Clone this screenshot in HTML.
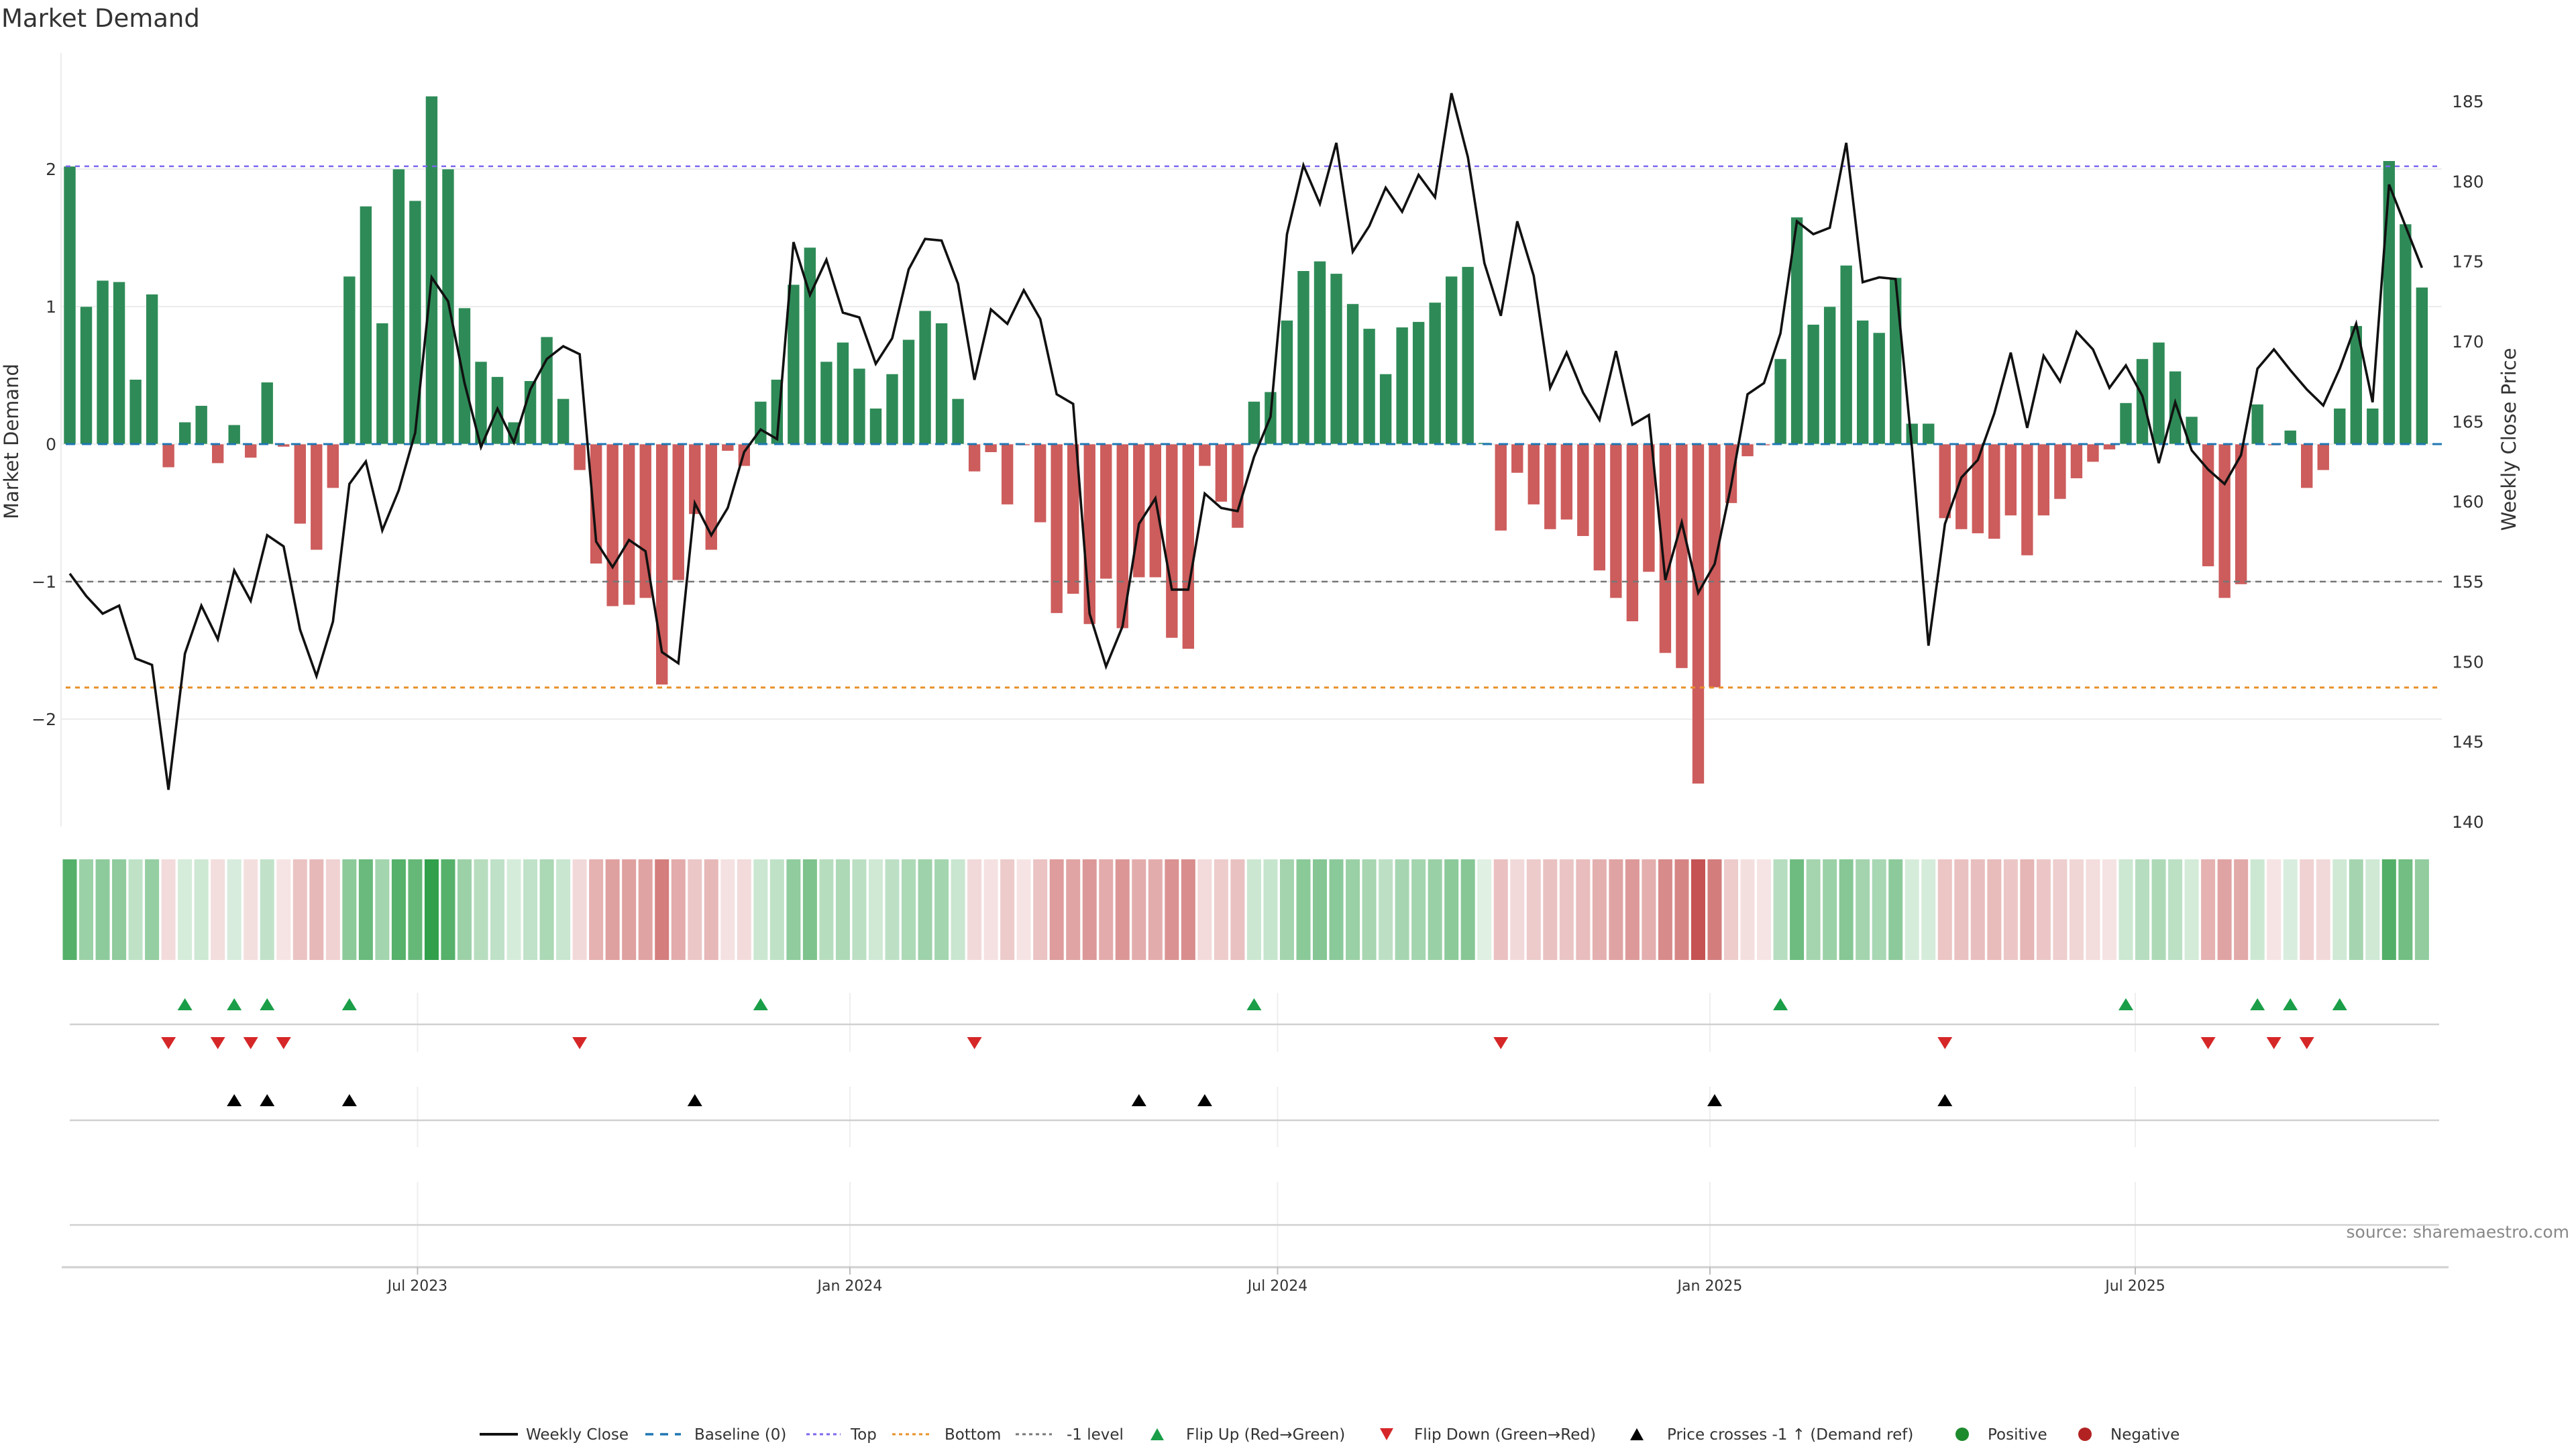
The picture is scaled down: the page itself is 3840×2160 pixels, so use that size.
<!DOCTYPE html>
<html><head><meta charset="utf-8"><style>
html,body{margin:0;padding:0;background:#fff;}
svg{display:block;font-family:"DejaVu Sans","Liberation Sans",sans-serif;}
</style></head><body>
<svg id="chart" width="3840" height="2160" viewBox="0 0 3840 2160" xmlns="http://www.w3.org/2000/svg">
<text x="2" y="40" font-size="37" fill="#333">Market Demand</text>
<text transform="translate(27,658) rotate(-90)" text-anchor="middle" font-size="29" fill="#333">Market Demand</text>
<text transform="translate(3750,655) rotate(-90)" text-anchor="middle" font-size="29" fill="#333">Weekly Close Price</text>
<text x="3830" y="1845" text-anchor="end" font-size="25" fill="#888">source: sharemaestro.com</text>
<g id="grid"></g><g id="bars"></g><g id="refs"></g><g id="line"></g><g id="heat"></g><g id="markers"></g><g id="xaxis"></g><g id="legend"></g>
</svg>
<script>
const demand = [2.02,1.0,1.19,1.18,0.47,1.09,-0.17,0.16,0.28,-0.14,0.14,-0.10,0.45,-0.02,-0.58,-0.77,-0.32,1.22,1.73,0.88,2.0,1.77,2.53,2.0,0.99,0.6,0.49,0.16,0.46,0.78,0.33,-0.19,-0.87,-1.18,-1.17,-1.12,-1.75,
-0.99,-0.51,-0.77,-0.05,-0.16,0.31,0.47,1.16,1.43,0.6,0.74,0.55,0.26,0.51,0.76,0.97,0.88,0.33,-0.2,-0.06,-0.44,-0.01,-0.57,-1.23,-1.09,-1.31,-0.98,-1.34,-0.97,-0.97,-1.41,-1.49,-0.16,-0.42,-0.61,0.31,0.38,0.9,1.26,
1.33,1.24,1.02,0.84,0.51,0.85,0.89,1.03,1.22,1.29,0.01,-0.63,-0.21,-0.44,-0.62,-0.55,-0.67,-0.92,-1.12,-1.29,-0.93,-1.52,-1.63,-2.47,-1.77,-0.43,-0.09,-0.01,0.62,1.65,0.87,1.0,1.3,0.9,0.81,1.21,0.15,0.15,
-0.54,-0.62,-0.65,-0.69,-0.52,-0.81,-0.52,-0.40,-0.25,-0.13,-0.04,0.3,0.62,0.74,0.53,0.2,-0.89,-1.12,-1.02,0.29,-0.01,0.1,-0.32,-0.19,0.26,0.86,0.26,2.06,1.6,1.14];
const price = [155.5,154.1,153.0,153.5,150.2,149.8,142.0,150.5,153.5,151.4,155.7,153.8,157.9,157.2,152.0,149.1,152.5,161.1,162.5,158.2,160.7,164.3,174.0,172.5,167.4,163.4,165.8,163.7,167.0,168.9,169.7,169.2,157.5,155.9,157.6,156.9,150.6,
149.9,159.9,157.9,159.6,163.1,164.5,163.9,176.2,172.9,175.1,171.8,171.5,168.6,170.2,174.5,176.4,176.3,173.6,167.6,172.0,171.1,173.2,171.4,166.7,166.1,153.0,149.7,152.2,158.6,160.2,154.5,154.5,160.5,159.6,159.4,162.8,165.3,176.7,181.0,
178.6,182.4,175.6,177.2,179.6,178.1,180.4,179.0,185.5,181.5,174.9,171.6,177.5,174.1,167.1,169.3,166.8,165.1,169.4,164.8,165.4,155.1,158.7,154.3,156.1,161.0,166.7,167.4,170.5,177.5,176.7,177.1,182.4,173.7,174.0,173.9,163.3,151.0,
158.6,161.5,162.6,165.5,169.3,164.6,169.1,167.5,170.6,169.5,167.1,168.5,166.6,162.4,166.2,163.2,162.0,161.1,162.9,168.3,169.5,168.2,167.0,166.0,168.3,171.1,166.2,179.8,177.2,174.6];
const startDate = "2023-02-03";
const leftTicks = [-2,-1,0,1,2];
const rightTicks = [140,145,150,155,160,165,170,175,180,185];
const dateTicks = ["2023-07-01","2024-01-01","2024-07-01","2025-01-01","2025-07-01"];
const dateTickLabels = ["Jul 2023","Jan 2024","Jul 2024","Jan 2025","Jul 2025"];
const topLevel = 2.02, bottomLevel = -1.77, minusLevel = -1, crossPrice = 155;

const NS="http://www.w3.org/2000/svg";
function mk(tag, parent, attrs){const e=document.createElementNS(NS,tag);for(const k in attrs)e.setAttribute(k,attrs[k]);parent.appendChild(e);return e;}
const X0=104, STEP=24.52;
const xAt = k => X0 + k*STEP;
const yL = v => 662 - v*205;
const yR = p => 867 - (p-155)*23.87;
const t0 = Date.parse(startDate);
const xDate = d => X0 + (Date.parse(d)-t0)/86400000/7*STEP;
const PL=91, PR=3650;

const grid=document.getElementById('grid');
leftTicks.forEach(v=>{
  const l=mk('line',grid,{x1:PL,x2:PR-10,y1:yL(v),y2:yL(v),stroke:'#ececec','stroke-width':2});
  
  
  const t=mk('text',grid,{x:84,y:yL(v)+9,'text-anchor':'end','font-size':25,fill:'#333'});
  t.textContent = v<0 ? '\u2212'+Math.abs(v) : String(v);
  
  
});
rightTicks.forEach(p=>{
  const t=mk('text',grid,{x:3655,y:yR(p)+9,'font-size':25,fill:'#333'});
  t.textContent=String(p);
  
  
});
const sp=mk('line',grid,{x1:PL,x2:PL,y1:79,y2:1232,stroke:'#ececec','stroke-width':2});



const bars=document.getElementById('bars');
demand.forEach((v,k)=>{
  const y=Math.min(yL(0),yL(v)), h=Math.abs(yL(v)-yL(0));
  const r=mk('rect',bars,{x:xAt(k)-9,y:y,width:18,height:Math.max(h,1),fill:v>=0?'#2e8b57':'#cd5c5c',stroke:'#fff','stroke-width':0.6});
  
  
});

const refs=document.getElementById('refs');
[[0,'#1f77b4','14 10',3,'baseline-zero'],[topLevel,'#7b68ee','7 7',2.5,'top-level-line'],[bottomLevel,'#e8902a','7 7',3,'bottom-level-line'],[minusLevel,'#777','9 7',2.5,'minus-one-level-line']].forEach(a=>{
  const l=mk('line',refs,{x1:98,x2:3640,y1:yL(a[0]),y2:yL(a[0]),stroke:a[1],'stroke-dasharray':a[2],'stroke-width':a[3]});
  
  
});

const lg=document.getElementById('line');
const pl=mk('polyline',lg,{points:price.map((p,k)=>xAt(k)+','+yR(p)).join(' '),fill:'none',stroke:'#111','stroke-width':3.6,'stroke-linejoin':'miter'});



const heat=document.getElementById('heat');
demand.forEach((v,k)=>{
  const a=0.15+0.85*Math.min(Math.abs(v)/2.53,1);
  const c=v>=0?'rgba(50,160,75,'+a.toFixed(3)+')':'rgba(196,80,80,'+a.toFixed(3)+')';
  const r=mk('rect',heat,{x:xAt(k)-10.5,y:1281,width:21,height:150,fill:c});
  
  
});

const mg=document.getElementById('markers');
dateTicks.forEach(d=>{
  [[1480,1568],[1620,1710],[1762,1888]].forEach(s=>{
    const l=mk('line',mg,{x1:xDate(d),x2:xDate(d),y1:s[0],y2:s[1],stroke:'#eeeeee','stroke-width':2});
    
    
  });
});
[1527,1670,1826].forEach(y=>{
  const l=mk('line',mg,{x1:104,x2:3636,y1:y,y2:y,stroke:'#d0d0d0','stroke-width':2.5});
  
  
});
function tri(x,y,up,fill,name){
  const pts= up ? [x-11,y+9,x+11,y+9,x,y-9] : [x-11,y-9,x+11,y-9,x,y+9];
  const p=mk('polygon',mg,{points:pts.join(' '),fill:fill});
  
  
}
for(let k=1;k<demand.length;k++){
  if(demand[k-1]<0 && demand[k]>=0) tri(xAt(k),1497,true,'#1a9e48','flip-up-marker');
  if(demand[k-1]>=0 && demand[k]<0) tri(xAt(k),1555,false,'#d62728','flip-down-marker');
  if(price[k-1]<crossPrice && price[k]>=crossPrice) tri(xAt(k),1640,true,'#000','price-cross-marker');
}

const xa=document.getElementById('xaxis');
const al=mk('line',xa,{x1:92,x2:3650,y1:1889,y2:1889,stroke:'#cfcfcf','stroke-width':3});


dateTicks.forEach((d,i)=>{
  const tk=mk('line',xa,{x1:xDate(d),x2:xDate(d),y1:1889,y2:1900,stroke:'#bbb','stroke-width':2});
  
  
  const t=mk('text',xa,{x:xDate(d),y:1924,'text-anchor':'middle','font-size':22,fill:'#333'});
  t.textContent=dateTickLabels[i];
  
  
});

const leg=document.getElementById('legend');
const Y=2138;
function ltxt(x,s){const t=mk('text',leg,{x:x,y:Y+8,'font-size':23,fill:'#333'});t.textContent=s;}
function lline(x1,x2,c,d,w){const l=mk('line',leg,{x1:x1,x2:x2,y1:Y,y2:Y,stroke:c,'stroke-width':w,'stroke-dasharray':d});}
lline(715,772,'#111','none',4); ltxt(784,'Weekly Close');
lline(962,1015,'#1f77b4','12 10',3.5); ltxt(1035,'Baseline (0)');
lline(1202,1253,'#7b68ee','5 5',3); ltxt(1268,'Top');
lline(1330,1388,'#e8902a','5 5',3); ltxt(1408,'Bottom');
lline(1514,1568,'#777','5 5',3); ltxt(1590,'-1 level');
(function(){
  const g=[[1725,'#1a9e48',true,1768,'Flip Up (Red\u2192Green)'],[2067,'#d62728',false,2108,'Flip Down (Green\u2192Red)'],[2440,'#000',true,2485,'Price crosses -1 \u2191 (Demand ref)']];
  g.forEach(a=>{
    const x=a[0];const pts=a[2]?[x-10,Y+9,x+10,Y+9,x,Y-9]:[x-10,Y-9,x+10,Y-9,x,Y+9];
    const p=mk('polygon',leg,{points:pts.join(' '),fill:a[1]});
    
    
    ltxt(a[3],a[4]);
  });
  [[2925,'#1e8a2e',2963,'Positive'],[3108,'#b22222',3146,'Negative']].forEach(a=>{
    const c=mk('circle',leg,{cx:a[0],cy:Y,r:10,fill:a[1]});
    
    
    ltxt(a[2],a[3]);
  });
})();
</script>
</body></html>
